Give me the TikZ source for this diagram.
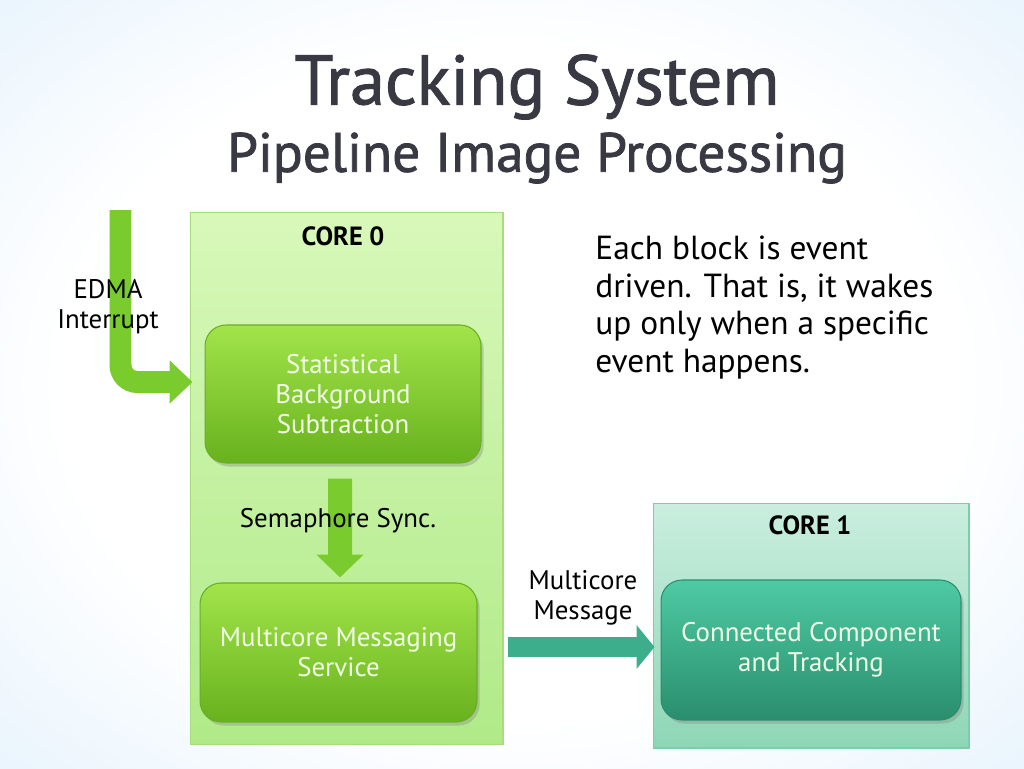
\documentclass[tikz,border=0pt]{standalone}
\usepackage{fontspec}
\setmainfont{PT Sans}
\newfontfamily\titlefont[FakeBold=1.4]{PT Sans}
\usetikzlibrary{arrows.meta,shadows,calc}
\definecolor{bgblue}{HTML}{A2D2F6}
\definecolor{bgmid}{HTML}{E2F1FC}
\definecolor{pzeroT}{HTML}{D8F8BA}
\definecolor{pzeroB}{HTML}{B0EA88}
\definecolor{pzeroD}{HTML}{A6DE7E}
\definecolor{poneT}{HTML}{CAEEDF}
\definecolor{poneB}{HTML}{8ED6B6}
\definecolor{poneD}{HTML}{7FCCA9}
\definecolor{gT}{HTML}{A2E44A}
\definecolor{gB}{HTML}{68B21E}
\definecolor{gD}{HTML}{6AAE28}
\definecolor{tT}{HTML}{4ECAA3}
\definecolor{tB}{HTML}{2A8E6E}
\definecolor{tD}{HTML}{2E8C6E}
\definecolor{garrow}{HTML}{7ACB2E}
\definecolor{tarrow}{HTML}{3DAE8C}
\definecolor{titlecol}{HTML}{383942}
\definecolor{boxtext}{HTML}{F2FFE8}
\pgfdeclareradialshading{bgshade}{\pgfpoint{0bp}{0bp}}{color(0bp)=(white); color(22bp)=(white); color(40bp)=(bgmid); color(58bp)=(bgblue); color(72bp)=(bgblue)}
\tikzset{
  panelzero/.style={draw=pzeroD, line width=0.6pt, top color=pzeroT, bottom color=pzeroB, minimum width=6.26cm, minimum height=10.66cm, inner sep=0pt},
  panelone/.style={draw=poneD, line width=0.6pt, top color=poneT, bottom color=poneB, minimum width=6.32cm, minimum height=4.9cm, inner sep=0pt},
  greenbox/.style={draw=gD, line width=0.6pt, rounded corners=0.42cm, top color=gT, bottom color=gB, text=boxtext, align=center, font=\fontsize{15.3}{17}\selectfont, drop shadow={opacity=0.35, shadow xshift=1.5pt, shadow yshift=-2pt}},
  tealbox/.style={draw=tD, line width=0.6pt, rounded corners=0.42cm, top color=tT, bottom color=tB, text=boxtext, align=center, font=\fontsize{15.3}{17}\selectfont, drop shadow={opacity=0.35, shadow xshift=1.5pt, shadow yshift=-2pt}},
  corelabel/.style={font=\bfseries\fontsize{15}{17}\selectfont, text=black},
  plainlabel/.style={font=\fontsize{15.3}{17}\selectfont, text=black, align=center},
  fatgreen/.style={draw=garrow, line width=0.44cm},
  fatteal/.style={draw=tarrow, line width=0.4cm}
}
\begin{document}
\begin{tikzpicture}[x=0.02cm,y=-0.02cm]
\useasboundingbox (0,0) rectangle (1024,768);
\shade[shading=bgshade] (0,0) rectangle (1024,768);

% title
\node[font=\titlefont\fontsize{40}{44}\selectfont, text=titlecol] (title1) at (537,87) {Tracking System};
\node[font=\titlefont\fontsize{31.5}{34}\selectfont, text=titlecol] (title2) at (537,158) {Pipeline Image Processing};

% panels
\node[panelzero] (core0) at (346.5,478.5) {};
\node[panelone] (core1) at (811,625.5) {};
\node[corelabel] (core0lbl) at (343,236) {CORE 0};
\node[corelabel] (core1lbl) at (810,525) {CORE 1};

% blocks
\node[greenbox, minimum width=5.52cm, minimum height=2.76cm] (sbs) at (343,394) {Statistical\\Background\\Subtraction};
\node[greenbox, minimum width=5.54cm, minimum height=2.78cm] (mms) at (338.5,652.5) {Multicore Messaging\\Service};
\node[tealbox, minimum width=6.0cm, minimum height=2.8cm] (cct) at (811,650) {Connected Component\\and Tracking};

% connectors
\coordinate (edmastart) at (120.5,210);
\coordinate (edmatip) at ($(sbs.west)+(-12,-12)$);
\draw[fatgreen, rounded corners=0.34cm, -{Triangle[length=0.46cm, width=0.84cm]}] (edmastart) |- (edmatip);

\coordinate (semstart) at ($(sbs.south)+(-3,15)$);
\coordinate (semend) at ($(mms.north)+(1.5,-5)$);
\draw[draw=garrow, line width=0.48cm, -{Triangle[length=0.46cm, width=0.92cm]}] (semstart) -- (semend);

\coordinate (mcstart) at ($(mms.east)+(30,-5.5)$);
\coordinate (mcend) at ($(cct.west)+(-6,-3)$);
\draw[fatteal, -{Triangle[length=0.36cm, width=0.86cm]}] (mcstart) -- (mcend);

% labels
\node[plainlabel] (edmalbl) at (108,307) {EDMA\\Interrupt};
\node[plainlabel] (semlbl) at (338,521) {Semaphore Sync.};
\node[plainlabel] (mclbl) at (583,598) {Multicore\\Message};

\node[anchor=north west, align=left, font=\fontsize{19}{21.3}\selectfont, text=black, inner sep=0pt] (note) at (595,236) {Each block is event\\driven. That is, it wakes\\up only when a specific\\event happens.};
\end{tikzpicture}
\end{document}
